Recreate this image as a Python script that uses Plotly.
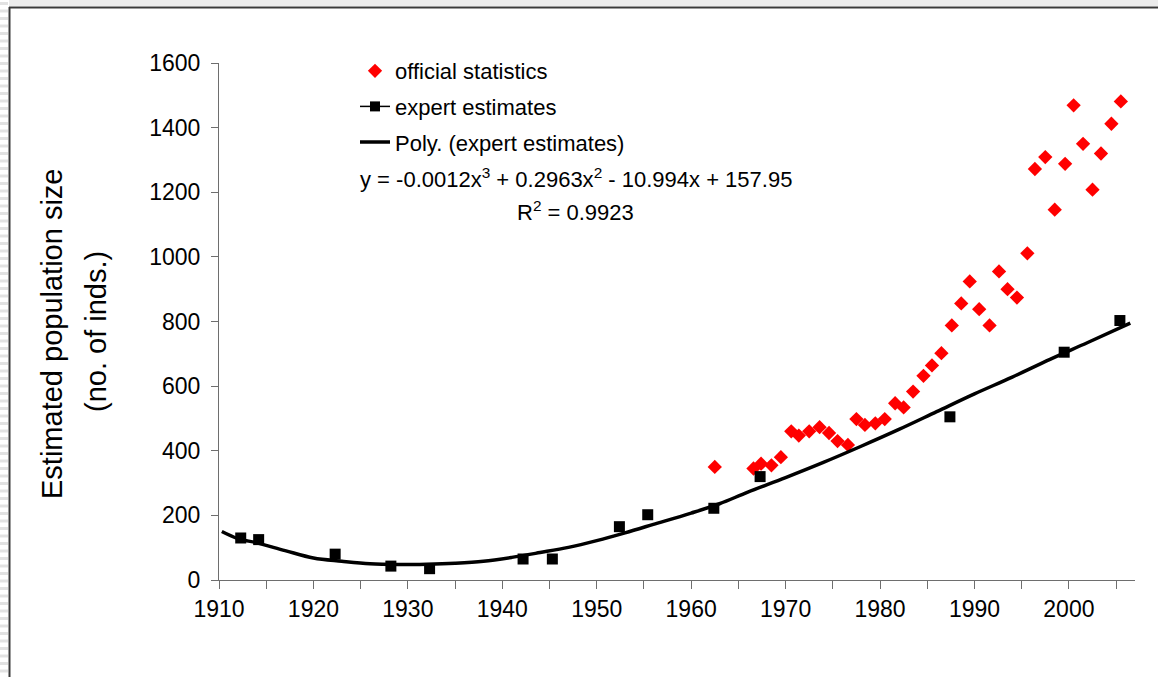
import plotly.graph_objects as go

# official statistics (red diamonds)
official_years = [1962.5, 1966.6, 1967.4, 1968.5, 1969.5, 1970.6, 1971.4, 1972.5, 1973.6,
                  1974.6, 1975.5, 1976.6, 1977.5, 1978.4, 1979.5, 1980.5, 1981.6, 1982.5,
                  1983.5, 1984.6, 1985.5, 1986.5, 1987.6, 1988.6, 1989.5, 1990.5, 1991.6,
                  1992.6, 1993.5, 1994.5, 1995.6, 1996.4, 1997.5, 1998.5, 1999.6, 2000.5,
                  2001.5, 2002.5, 2003.4, 2004.5, 2005.5]
official_values = [350, 345, 360, 355, 380, 460, 447, 460, 473,
                   455, 430, 418, 498, 480, 485, 498, 547, 534,
                   583, 632, 664, 702, 788, 856, 924, 838, 788,
                   955, 900, 874, 1011, 1272, 1309, 1146, 1288, 1469,
                   1350, 1208, 1320, 1412, 1481]

# expert estimates (black squares)
expert_years = [1912.3, 1914.2, 1922.3, 1928.2, 1932.3, 1942.2, 1945.3, 1952.4,
                1955.4, 1962.4, 1967.3, 1987.4, 1999.5, 2005.4]
expert_values = [130, 125, 80, 43, 35, 65, 65, 165, 202, 222, 320, 505, 705, 803]

# polynomial trendline as drawn
trend_years = [1910.3, 1912, 1914, 1917, 1920, 1923, 1926, 1929, 1932, 1935, 1938,
               1941, 1944, 1947, 1950, 1953, 1956, 1960, 1963, 1966, 1970, 1974,
               1978, 1982, 1986, 1990, 1994, 1998, 2002, 2006.5]
trend_values = [150, 128, 115, 91, 68, 58, 50, 48, 49, 52, 58,
                70, 85, 101, 122, 146, 172, 207, 236, 272, 317, 364,
                414, 466, 521, 576, 628, 683, 735, 795]

x_ticks = [1910, 1920, 1930, 1940, 1950, 1960, 1970, 1980, 1990, 2000]
y_ticks = [0, 200, 400, 600, 800, 1000, 1200, 1400, 1600]

FONT = "Liberation Sans, Arial, sans-serif"
AXIS_GREY = "#6e6e6e"

# plot area in pixels
W, H = 1158, 677
PL, PT, PW, PH = 219, 63, 916, 517


def paper(x, y):
    return (x - PL) / PW, (PT + PH - y) / PH


fig = go.Figure()

fig.add_trace(go.Scatter(
    x=official_years, y=official_values, mode="markers", name="official statistics",
    legendgroup="a",
    marker=dict(symbol="diamond", size=11, color="#ff0000"),
))
fig.add_trace(go.Scatter(
    x=expert_years, y=expert_values, mode="markers", name="expert estimates",
    showlegend=False,
    marker=dict(symbol="square", size=11, color="#000000"),
))
# legend entry only (line + marker)
fig.add_trace(go.Scatter(
    x=[None], y=[None], mode="lines+markers", name="expert estimates",
    legendgroup="b",
    line=dict(color="#000000", width=1.5),
    marker=dict(symbol="square", size=10, color="#000000"),
))
fig.add_trace(go.Scatter(
    x=trend_years, y=trend_values, mode="lines", name="Poly. (expert estimates)",
    legendgroup="c",
    line=dict(color="#000000", width=3.5, shape="spline"),
))


def note(x, y, text, size, angle=0):
    px, py = paper(x, y)
    return dict(x=px, y=py, xref="paper", yref="paper", text=text, textangle=angle,
                xanchor="center", yanchor="middle", showarrow=False,
                font=dict(size=size, color="#000"))


ann = [
    note(52, 334, "Estimated population size", 29, -90),
    note(96, 332, "(no. of inds.)", 29, -90),
    note(576, 178, "y = -0.0012x<sup>3</sup> + 0.2963x<sup>2</sup> - 10.994x + 157.95", 22),
    note(575, 211, "R<sup>2</sup> = 0.9923", 22),
]

# window frame decoration
shapes = []
for i in range(92):
    ya, yb = i * 7.5 + 2, i * 7.5 + 5
    xa, ya_p = paper(0, ya)
    xb, yb_p = paper(8, yb)
    shapes.append(dict(type="rect", xref="paper", yref="paper", x0=xa, x1=xb, y0=ya_p, y1=yb_p,
                       fillcolor="#e2e2e2", line=dict(width=0), layer="below"))
xa, ya = paper(9, 0)
xb, yb = paper(W, 6)
shapes.append(dict(type="rect", xref="paper", yref="paper", x0=xa, x1=xb, y0=ya, y1=yb,
                   fillcolor="#ececec", line=dict(width=0), layer="below"))
xa, ya = paper(9, 7.5)
xb, yb = paper(W, 7.5)
shapes.append(dict(type="line", xref="paper", yref="paper", x0=xa, x1=xb, y0=ya, y1=yb,
                   line=dict(color="#3a3a3a", width=2)))
xa, ya = paper(9.5, 7)
xb, yb = paper(9.5, H)
shapes.append(dict(type="line", xref="paper", yref="paper", x0=xa, x1=xb, y0=ya, y1=yb,
                   line=dict(color="#3a3a3a", width=2)))

lx, ly = paper(355, 50)

fig.update_layout(
    width=W, height=H,
    margin=dict(l=PL, r=W - PL - PW, t=PT, b=H - PT - PH, pad=0),
    paper_bgcolor="white", plot_bgcolor="white",
    font=dict(family=FONT, color="#000000"),
    showlegend=True,
    legend=dict(x=lx, y=ly, xanchor="left", yanchor="top", bgcolor="rgba(0,0,0,0)",
                font=dict(size=22), traceorder="grouped", tracegroupgap=4),
    annotations=ann,
    shapes=shapes,
)

fig.update_xaxes(
    range=[1910, 2007], tickvals=x_ticks, ticks="outside", ticklen=8, tickcolor=AXIS_GREY,
    showline=True, linecolor=AXIS_GREY, linewidth=1, showgrid=False, zeroline=False,
    tickfont=dict(size=23), minor=dict(dtick=5, tick0=1910, ticks="outside", ticklen=8,
                                       tickcolor=AXIS_GREY, showgrid=False),
)
fig.update_yaxes(
    range=[0, 1600], tickvals=y_ticks, ticks="outside", ticklen=7, tickcolor=AXIS_GREY,
    showline=True, linecolor=AXIS_GREY, linewidth=1, showgrid=False, zeroline=False,
    tickfont=dict(size=23), ticklabelstandoff=6,
)

# drop the default page margin so the figure sits at the window's corner
fig.write_html("out.html", config={"displayModeBar": False},
               post_script="document.body.style.margin='0';")
